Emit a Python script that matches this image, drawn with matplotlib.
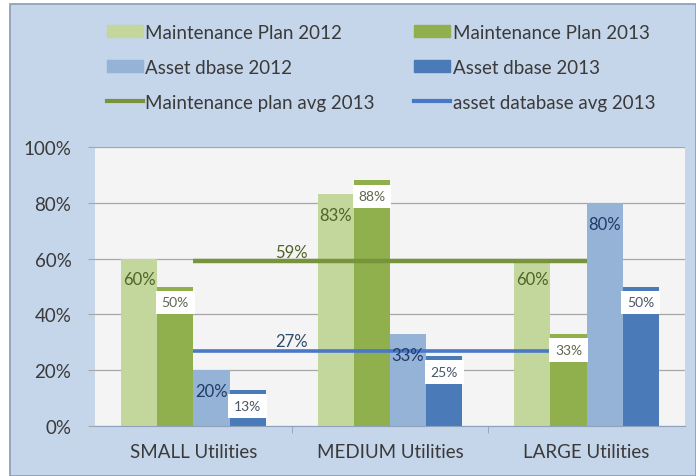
import numpy as np
import matplotlib.pyplot as plt
from matplotlib.patches import Patch, Rectangle
from matplotlib.lines import Line2D

plt.rcParams['font.family'] = ['Lato', 'DejaVu Sans']

categories = ['SMALL Utilities', 'MEDIUM Utilities', 'LARGE Utilities']
maint_2012 = [60, 83, 60]
maint_2013 = [50, 88, 33]
asset_2012 = [20, 33, 80]
asset_2013 = [13, 25, 50]
maint_avg_2013 = 59
asset_avg_2013 = 27
y_ticks = [0, 20, 40, 60, 80, 100]

CHART_BG = '#c5d5ea'
PLOT_BG = '#f4f4f4'
C_MP12 = '#c3d69b'
C_MP13 = '#8fb04c'
C_AD12 = '#95b3d7'
C_AD13 = '#4a7ab8'
C_MP_AVG = '#77933c'
C_AD_AVG = '#4a78c8'
TXT = '#3a3a3a'

fig = plt.figure(figsize=(6.96, 4.77), dpi=100, facecolor='white')
fig.patches.append(Rectangle((10 / 696, 0), 1 - 10 / 696, 1 - 5 / 477, transform=fig.transFigure,
                             facecolor=CHART_BG, edgecolor='#8a9bb2', linewidth=1.2, zorder=-10))

ax = fig.add_axes([95 / 696, 1 - 427 / 477, 590 / 696, 279 / 477])
ax.set_facecolor(PLOT_BG)

x = np.arange(len(categories))
w = 0.184

ax.bar(x - 1.5 * w, maint_2012, w, color=C_MP12, zorder=2)
ax.bar(x - 0.5 * w, maint_2013, w, color=C_MP13, zorder=2)
ax.bar(x + 0.5 * w, asset_2012, w, color=C_AD12, zorder=2)
ax.bar(x + 1.5 * w, asset_2013, w, color=C_AD13, zorder=2)

# average lines run from the first to the last category
ax.plot([x[0], x[-1]], [maint_avg_2013] * 2, color=C_MP_AVG, lw=3.2, zorder=3, solid_capstyle='butt')
ax.plot([x[0], x[-1]], [asset_avg_2013] * 2, color=C_AD_AVG, lw=2.6, zorder=3, solid_capstyle='butt')
ax.annotate(f'{maint_avg_2013}%', (0.5, maint_avg_2013), xytext=(0, 1), textcoords='offset points',
            ha='center', va='bottom', fontsize=12, color='#4f6228', zorder=4)
ax.annotate(f'{asset_avg_2013}%', (0.5, asset_avg_2013), xytext=(0, 1), textcoords='offset points',
            ha='center', va='bottom', fontsize=12, color='#2e4a6b', zorder=4)

# 2012 labels sit inside the bar end
for xs, vals, col in [(x - 1.5 * w, maint_2012, '#4f6228'), (x + 0.5 * w, asset_2012, '#1f3a66')]:
    for xi, v in zip(xs, vals):
        ax.annotate(f'{v}%', (xi, v), xytext=(0, -15), textcoords='offset points',
                    ha='center', va='center', fontsize=12, color=col, zorder=5)

# 2013 labels with a white box covering the bar top
for xs, vals, col in [(x - 0.5 * w, maint_2013, '#5f6650'), (x + 1.5 * w, asset_2013, '#4a5566')]:
    for xi, v in zip(xs, vals):
        ax.annotate(f'{v}%', (xi, v), xytext=(0, -11.5), textcoords='offset points',
                    ha='center', va='center', fontsize=10, color=col, zorder=5,
                    bbox=dict(boxstyle='square,pad=0.42', fc='white', ec='none'))

ax.set_xlim(-0.5, 2.5)
ax.set_ylim(0, 100)
ax.set_yticks(y_ticks)
ax.set_yticklabels([f'{t}%' for t in y_ticks], fontsize=13.5, color=TXT)
ax.yaxis.grid(True, color='#a6a6a6', lw=0.9, zorder=0)
ax.set_axisbelow(True)
ax.tick_params(axis='y', length=5, color='#a6a6a6', pad=12)

ax.set_xticks(x)
ax.set_xticklabels(categories, fontsize=13.5, color=TXT)
ax.set_xticks([0.5, 1.5], minor=True)
ax.tick_params(axis='x', which='major', length=0, pad=12)
ax.tick_params(axis='x', which='minor', length=5, color='#8ea2bb')

for s in ['top', 'right', 'left']:
    ax.spines[s].set_visible(False)
ax.spines['bottom'].set_color('#8ea2bb')

handles = [Patch(color=C_MP12), Patch(color=C_AD12), Line2D([], [], color=C_MP_AVG, lw=3),
           Patch(color=C_MP13), Patch(color=C_AD13), Line2D([], [], color=C_AD_AVG, lw=3)]
labels = ['Maintenance Plan 2012', 'Asset dbase 2012', 'Maintenance plan avg 2013',
          'Maintenance Plan 2013', 'Asset dbase 2013', 'asset database avg 2013']
fig.legend(handles, labels, ncol=2, loc='upper left', bbox_to_anchor=(90 / 696, 1 - 8 / 477),
           frameon=False, fontsize=13.5, handlelength=1.9, handleheight=0.6, handletextpad=0.15,
           columnspacing=2.1, labelspacing=0.95, labelcolor=TXT)

fig.savefig('out.png', dpi=100, facecolor=fig.get_facecolor())
